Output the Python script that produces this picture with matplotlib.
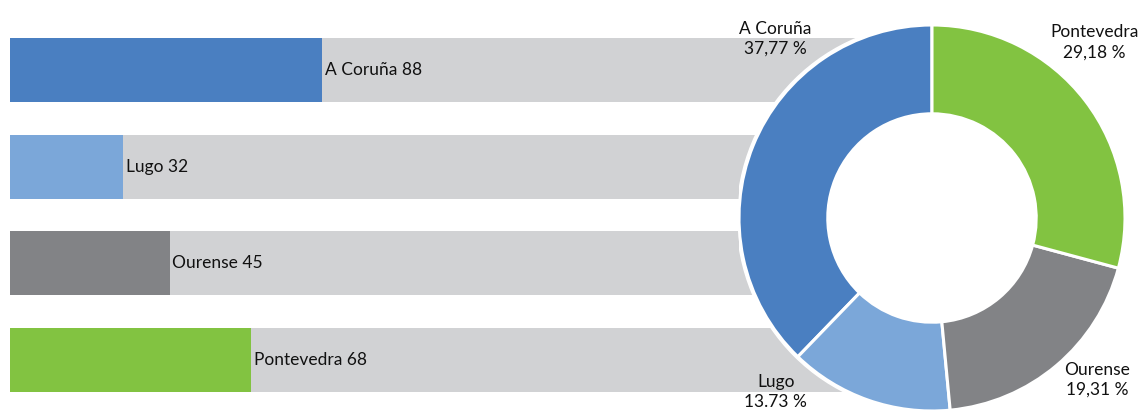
import matplotlib.pyplot as plt
import numpy as np

plt.rcParams['font.family'] = ['Lato', 'DejaVu Sans']

provinces = ['A Coruña', 'Lugo', 'Ourense', 'Pontevedra']
counts = [88, 32, 45, 68]
pct_labels = ['37,77 %', '13.73 %', '19,31 %', '29,18 %']
colors = ['#4A7FC1', '#7BA7D9', '#828386', '#82C341']
bg_gray = '#D1D2D4'
full_scale = 260  # background track, runs under the donut

W, H = 1148, 413
fig = plt.figure(figsize=(W / 100, H / 100), dpi=100)

# bar panel: value 0 at x=10px, ~3.545 px per unit
ax = fig.add_axes([10 / W, 0, full_scale * 3.545 / W, 1])
y = np.arange(len(provinces))
ax.barh(y, [full_scale] * len(y), height=0.66, color=bg_gray)
ax.barh(y, counts, height=0.66, color=colors)
for yi, name, c in zip(y, provinces, counts):
    ax.text(c + 0.8, yi, f'{name} {c}', va='center', ha='left', fontsize=12.5, color='#111111')
ax.set_xlim(0, full_scale)
ax.set_ylim(3.547, -0.724)
ax.axis('off')

# donut
r_px = 193
ring = 0.46
cx, cy = 932, H - 218
pax = fig.add_axes([(cx - r_px) / W, (cy - r_px) / H, 2 * r_px / W, 2 * r_px / H])
pax.add_patch(plt.Circle((0, 0), 1.01, color='white', zorder=0))
pax.pie(counts, colors=colors, startangle=90, counterclock=True, radius=1,
        wedgeprops=dict(width=ring, edgecolor='white', linewidth=2.2))
pax.add_patch(plt.Circle((0, 0), 1 - ring, color='white', zorder=5))
pax.set_xlim(-1, 1)
pax.set_ylim(-1, 1)
pax.axis('off')

label_pos = [(-0.81, 0.93), (-0.81, -0.9), (0.855, -0.84), (0.84, 0.91)]
for (lx, ly), name, p in zip(label_pos, provinces, pct_labels):
    pax.text(lx, ly, f'{name}\n{p}', ha='center', va='center', fontsize=12.5,
             color='#111111', linespacing=1.3, clip_on=False, zorder=10)

fig.savefig('out.png', dpi=100)
